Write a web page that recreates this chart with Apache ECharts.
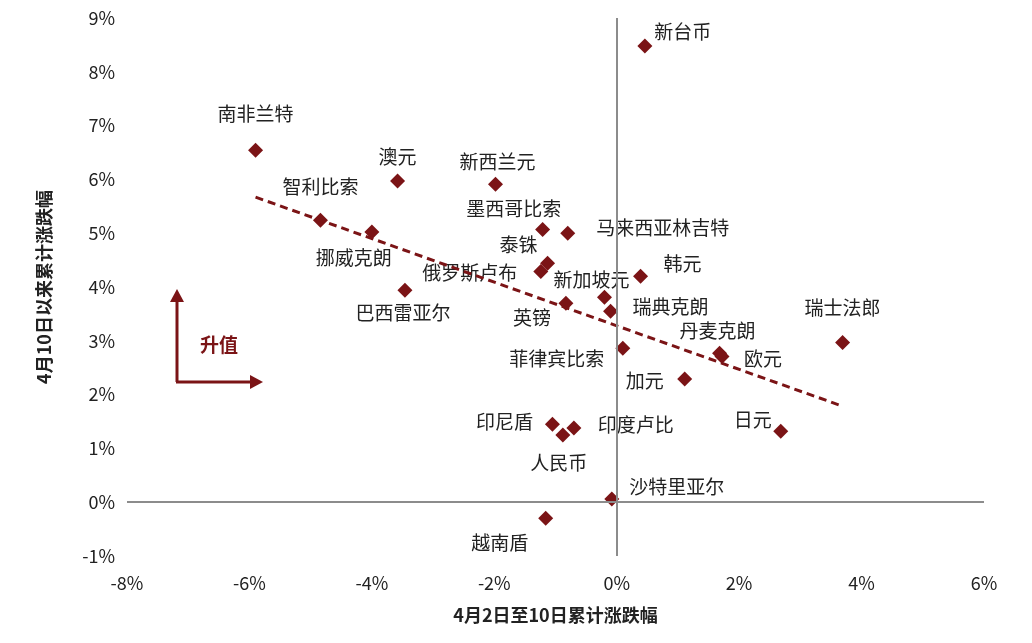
<!DOCTYPE html>
<html>
<head>
<meta charset="utf-8">
<script src="https://cdn.jsdelivr.net/npm/echarts@6/dist/echarts.min.js"></script>
<style>
  html, body { margin: 0; padding: 0; background: #fff; }
  #chart { width: 1032px; height: 643px; }
</style>
</head>
<body>
<div id="chart"></div>
<script>
// 货币名称 / 4月2日至10日涨跌幅 / 4月10日以来涨跌幅
var names = ['新台币','南非兰特','澳元','新西兰元','智利比索','挪威克朗','墨西哥比索','马来西亚林吉特',
  '泰铢','俄罗斯卢布','韩元','巴西雷亚尔','新加坡元','英镑','瑞典克朗','瑞士法郎','菲律宾比索',
  '丹麦克朗','欧元','加元','日元','印尼盾','印度卢比','人民币','沙特里亚尔','越南盾'];
var xVals = [0.46,-5.90,-3.58,-1.98,-4.84,-4.00,-1.21,-0.80,-1.13,-1.24,0.39,-3.46,-0.20,-0.83,-0.10,
  3.69,0.10,1.68,1.72,1.11,2.68,-1.05,-0.70,-0.88,-0.08,-1.16];
var yVals = [8.48,6.54,5.97,5.91,5.24,5.02,5.07,5.00,4.44,4.29,4.20,3.94,3.81,3.70,3.55,
  2.97,2.86,2.77,2.71,2.29,1.32,1.45,1.38,1.25,0.06,-0.30];
var trendX = [-5.9, 3.7];
var trendY = [5.67, 1.78];
var xTicks = [-8,-6,-4,-2,0,2,4,6];
var yTicks = [-1,0,1,2,3,4,5,6,7,8,9];

// 标签偏移 (像素)
var labelOffset = {
  '新台币':[38,-14],'南非兰特':[0,-37],'澳元':[0,-24],'新西兰元':[2,-22],'智利比索':[0,-34],
  '挪威克朗':[-18,26],'墨西哥比索':[-29,-21],'马来西亚林吉特':[95,-5],'泰铢':[-29,-19],
  '俄罗斯卢布':[-71,1],'韩元':[42,-12],'巴西雷亚尔':[-2,23],'新加坡元':[-13,-17],'英镑':[-34,15],
  '瑞典克朗':[60,-4],'瑞士法郎':[0,-35],'菲律宾比索':[-66,10],'丹麦克朗':[-2,-22],'欧元':[41,2],
  '加元':[-40,2],'日元':[-28,-11],'印尼盾':[-48,-2],'印度卢比':[62,-3],'人民币':[-4,28],
  '沙特里亚尔':[65,-12],'越南盾':[-46,24]
};

var red = '#7b1416';
var font = '"Noto Sans CJK SC", "Liberation Sans", sans-serif';

var points = names.map(function (n, i) {
  return {
    name: n,
    value: [xVals[i], yVals[i]],
    label: { offset: labelOffset[n] }
  };
});

var myChart = echarts.init(document.getElementById('chart'));
var option = {
  animation: false,
  textStyle: { fontFamily: font },
  grid: { left: 127, right: 48, top: 18, bottom: 87 },
  xAxis: {
    type: 'value', min: xTicks[0], max: xTicks[xTicks.length - 1], interval: 2,
    axisLine: { show: false, onZero: false }, axisTick: { show: false }, splitLine: { show: false },
    axisLabel: { formatter: '{value}%', fontSize: 18, color: '#222', margin: 18 },
    name: '4月2日至10日累计涨跌幅', nameLocation: 'middle', nameGap: 50,
    nameTextStyle: { fontSize: 18, fontWeight: 'bold', color: '#222' }
  },
  yAxis: {
    type: 'value', min: yTicks[0], max: yTicks[yTicks.length - 1], interval: 1,
    axisLine: { show: false, onZero: false }, axisTick: { show: false }, splitLine: { show: false },
    axisLabel: { formatter: '{value}%', fontSize: 18, color: '#222', margin: 12 },
    name: '4月10日以来累计涨跌幅', nameLocation: 'middle', nameGap: 74,
    nameTextStyle: { fontSize: 18, fontWeight: 'bold', color: '#222' }
  },
  graphic: [
    { type: 'line', shape: { x1: 177, y1: 382, x2: 177, y2: 300 }, style: { stroke: red, lineWidth: 3 } },
    { type: 'polygon', shape: { points: [[170, 302], [184, 302], [177, 289]] }, style: { fill: red } },
    { type: 'line', shape: { x1: 176, y1: 382, x2: 252, y2: 382 }, style: { stroke: red, lineWidth: 3 } },
    { type: 'polygon', shape: { points: [[250, 375], [250, 389], [263, 382]] }, style: { fill: red } },
    { type: 'text', left: 200, top: 335, style: { text: '升值', fill: red, font: 'bold 19px ' + font } }
  ],
  series: [
    {
      type: 'line',
      data: [[trendX[0], trendY[0]], [trendX[1], trendY[1]]],
      symbol: 'none',
      lineStyle: { color: red, width: 3, type: [8, 5] },
      markLine: {
        silent: true, symbol: 'none', label: { show: false },
        lineStyle: { color: '#8c8c8c', width: 2, type: 'solid' },
        data: [{ xAxis: 0 }, { yAxis: 0 }]
      }
    },
    {
      type: 'scatter',
      data: points,
      symbol: 'diamond',
      symbolSize: 15,
      itemStyle: { color: red, opacity: 1 },
      label: {
        show: true, position: 'inside', formatter: '{b}',
        fontSize: 19, color: '#222'
      }
    }
  ]
};
myChart.setOption(option);
</script>
</body>
</html>
